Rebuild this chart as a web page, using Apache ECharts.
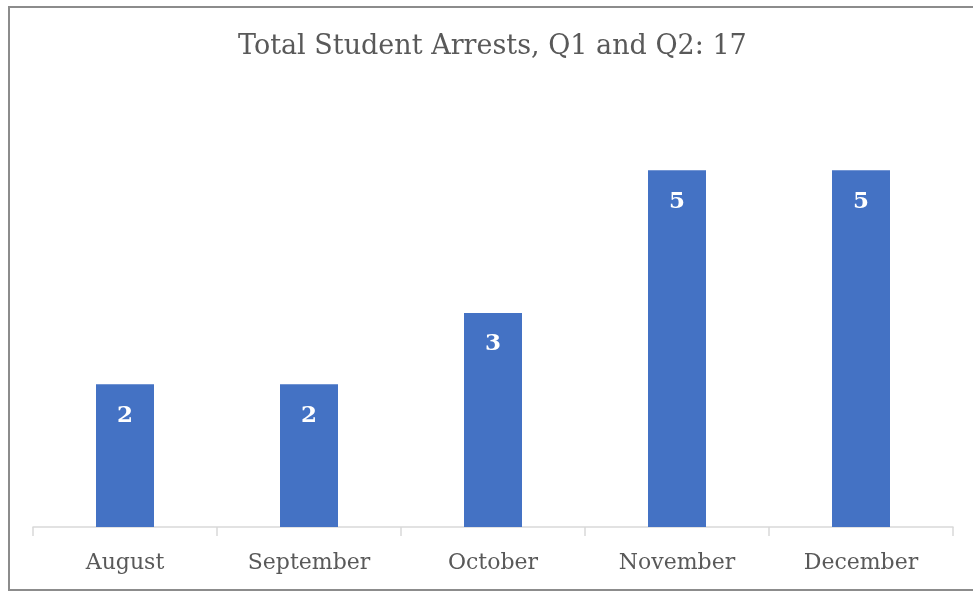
<!DOCTYPE html>
<html>
<head>
<meta charset="utf-8">
<script src="https://cdn.jsdelivr.net/npm/echarts@6/dist/echarts.min.js"></script>
<style>
  html, body { margin: 0; padding: 0; background: #fff; overflow: hidden; }
  #main { width: 973px; height: 593px; }
</style>
</head>
<body>
<div id="main"></div>
<script>
// chart data
var months = ['August', 'September', 'October', 'November', 'December'];
var arrests = [2, 2, 3, 5, 5];
var titleText = 'Total Student Arrests, Q1 and Q2: 17';

var serif = "'DejaVu Serif', serif";
var myChart = echarts.init(document.getElementById('main'));

var option = {
  animation: false,
  // outer frame (left, top and bottom edges only)
  graphic: [{
    type: 'polyline',
    silent: true,
    shape: { points: [[980, 7], [9, 7], [9, 590], [980, 590]] },
    style: { stroke: '#8c8c8c', lineWidth: 2, fill: null }
  }],
  title: {
    text: titleText,
    left: 233,
    top: 28,
    textStyle: {
      fontFamily: serif,
      fontWeight: 'normal',
      fontSize: 27,
      color: '#595959'
    }
  },
  grid: { left: 33, right: 20, top: 99, bottom: 66 },
  xAxis: {
    type: 'category',
    data: months,
    axisLine: { lineStyle: { color: '#d9d9d9', width: 1.5 } },
    axisTick: { show: true, length: 9, alignWithLabel: false, lineStyle: { color: '#d9d9d9', width: 1.5 } },
    axisLabel: {
      fontFamily: serif,
      fontSize: 22,
      color: '#595959',
      margin: 25
    }
  },
  yAxis: {
    type: 'value',
    min: 0,
    max: 6,
    interval: 1,
    show: false,
    splitLine: { show: false }
  },
  series: [{
    type: 'bar',
    data: arrests,
    barWidth: 58,
    itemStyle: { color: '#4472c4' },
    label: {
      show: true,
      position: 'insideTop',
      distance: 20,
      color: '#ffffff',
      fontFamily: serif,
      fontWeight: 'bold',
      fontSize: 23
    }
  }]
};

myChart.setOption(option);
window.addEventListener('resize', myChart.resize);
</script>
</body>
</html>
